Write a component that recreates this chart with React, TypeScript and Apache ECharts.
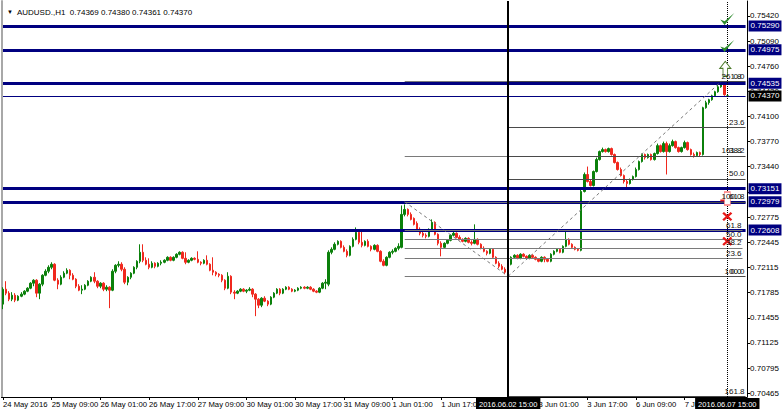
import { useEffect, useRef } from "react";
import * as echarts from "echarts";

const FONT = '"Liberation Sans", Arial, sans-serif';
const FS = 8;
const FS_X = 7.7;
const FS_BOX = 7.5;

const TITLE = "AUDUSD.,H1  0.74369 0.74380 0.74361 0.74370";
// "2 Jun 09:00" sits under the crosshair time box in the reference, so it is left blank
const X_LABELS = ["24 May 2016", "25 May 09:00", "26 May 01:00", "26 May 17:00", "27 May 09:00", "30 May 01:00", "30 May 17:00", "31 May 09:00", "1 Jun 01:00", "1 Jun 17:00", "", "3 Jun 01:00", "3 Jun 17:00", "6 Jun 09:00", "7 Jun 01:00"];
const LABEL_EVERY = 16;
const SLOTS = 245;
const Y_TICKS = [0.7542, 0.7509, 0.7476, 0.7443, 0.741, 0.7377, 0.7344, 0.7311, 0.72775, 0.72445, 0.72115, 0.71785, 0.71455, 0.71125, 0.70795, 0.70465];
const Y_MIN = 0.70415;
const Y_MAX = 0.75617;

// [open, close, low, high] hourly bars from 24 May 17:00
const OHLC: number[][] = [
  [0.71635, 0.71831, 0.71569, 0.71857], [0.71831, 0.71779, 0.71752, 0.71936], [0.71779, 0.717, 0.71674, 0.71805], [0.717, 0.71752, 0.71674, 0.71792],
  [0.71752, 0.71687, 0.71661, 0.71779], [0.71687, 0.71739, 0.71674, 0.71752], [0.71739, 0.71766, 0.71726, 0.71792], [0.71766, 0.71805, 0.71752, 0.71818],
  [0.71805, 0.71844, 0.71792, 0.71857], [0.71844, 0.7191, 0.71831, 0.71923], [0.7191, 0.71949, 0.7187, 0.71962], [0.71949, 0.71779, 0.71726, 0.71962],
  [0.71779, 0.71897, 0.717, 0.7191], [0.71897, 0.72014, 0.7187, 0.72028], [0.72014, 0.72067, 0.72001, 0.72093], [0.72067, 0.72119, 0.72041, 0.72145],
  [0.72119, 0.72159, 0.72093, 0.72185], [0.72159, 0.71949, 0.71936, 0.72172], [0.71949, 0.71897, 0.71831, 0.71975], [0.71897, 0.71988, 0.71883, 0.72014],
  [0.71988, 0.72041, 0.71975, 0.72067], [0.72041, 0.7208, 0.72028, 0.72106], [0.7208, 0.72014, 0.71962, 0.72093], [0.72014, 0.71962, 0.71949, 0.72041],
  [0.71962, 0.7187, 0.71844, 0.71975], [0.7187, 0.71818, 0.71805, 0.71897], [0.71818, 0.71831, 0.71766, 0.71883], [0.71831, 0.71883, 0.71818, 0.71897],
  [0.71883, 0.71936, 0.7187, 0.71949], [0.71936, 0.71988, 0.71923, 0.72001], [0.71988, 0.71936, 0.7191, 0.72054], [0.71936, 0.7187, 0.71844, 0.71949],
  [0.7187, 0.7191, 0.71844, 0.71923], [0.7191, 0.71831, 0.71805, 0.71923], [0.71831, 0.71857, 0.71805, 0.71883], [0.71857, 0.71818, 0.71582, 0.7187],
  [0.71818, 0.72067, 0.71805, 0.72093], [0.72067, 0.72145, 0.72041, 0.72159], [0.72145, 0.72159, 0.72119, 0.72198], [0.72159, 0.72093, 0.72067, 0.72185],
  [0.72093, 0.71923, 0.71897, 0.72119], [0.71923, 0.71988, 0.71883, 0.72001], [0.71988, 0.72041, 0.71962, 0.72054], [0.72041, 0.72119, 0.72028, 0.72132],
  [0.72119, 0.72198, 0.72093, 0.72211], [0.72198, 0.72316, 0.72172, 0.72421], [0.72316, 0.72211, 0.72185, 0.72421], [0.72211, 0.72159, 0.72145, 0.7225],
  [0.72159, 0.72119, 0.72093, 0.72237], [0.72119, 0.72172, 0.72106, 0.72198], [0.72172, 0.72132, 0.72106, 0.72185], [0.72132, 0.72172, 0.72119, 0.72185],
  [0.72172, 0.72185, 0.72145, 0.72211], [0.72185, 0.72211, 0.72172, 0.72224], [0.72211, 0.7225, 0.72198, 0.72263], [0.7225, 0.72211, 0.72198, 0.72263],
  [0.72211, 0.7225, 0.72198, 0.72263], [0.7225, 0.7229, 0.72237, 0.72303], [0.7229, 0.72316, 0.72276, 0.72329], [0.72316, 0.72237, 0.72224, 0.72329],
  [0.72237, 0.72185, 0.72159, 0.72316], [0.72185, 0.72211, 0.72172, 0.72224], [0.72211, 0.72237, 0.72198, 0.7225], [0.72237, 0.72224, 0.72211, 0.7225],
  [0.72224, 0.72185, 0.72172, 0.72329], [0.72185, 0.72172, 0.72145, 0.72198], [0.72172, 0.72211, 0.72159, 0.72224], [0.72211, 0.72159, 0.72145, 0.72276],
  [0.72159, 0.7208, 0.72067, 0.72172], [0.7208, 0.72054, 0.72014, 0.7225], [0.72054, 0.72028, 0.72001, 0.72067], [0.72028, 0.72014, 0.71988, 0.72041],
  [0.72014, 0.71949, 0.71923, 0.72028], [0.71949, 0.71844, 0.71818, 0.71962], [0.71844, 0.72001, 0.71831, 0.72054], [0.72001, 0.71792, 0.71766, 0.72014],
  [0.71792, 0.71779, 0.717, 0.71818], [0.71779, 0.71805, 0.71766, 0.71818], [0.71805, 0.71831, 0.71792, 0.71844], [0.71831, 0.71805, 0.71792, 0.71844],
  [0.71805, 0.71818, 0.71779, 0.71831], [0.71818, 0.71831, 0.71805, 0.71857], [0.71831, 0.71766, 0.71726, 0.71844], [0.71766, 0.717, 0.71477, 0.71779],
  [0.717, 0.71621, 0.71582, 0.71713], [0.71621, 0.71713, 0.71595, 0.71726], [0.71713, 0.71674, 0.71661, 0.71739], [0.71674, 0.71635, 0.71608, 0.71687],
  [0.71635, 0.71726, 0.71621, 0.71739], [0.71726, 0.71779, 0.71713, 0.71792], [0.71779, 0.71831, 0.71766, 0.71844], [0.71831, 0.71779, 0.71752, 0.71844],
  [0.71779, 0.71831, 0.71766, 0.71844], [0.71831, 0.71857, 0.71818, 0.7187], [0.71857, 0.71831, 0.71818, 0.7187], [0.71831, 0.71805, 0.71792, 0.71844],
  [0.71805, 0.71818, 0.71792, 0.71831], [0.71818, 0.71844, 0.71805, 0.71857], [0.71844, 0.71857, 0.71831, 0.7187], [0.71857, 0.71844, 0.71831, 0.7187],
  [0.71844, 0.71857, 0.71831, 0.7187], [0.71857, 0.71831, 0.71818, 0.7187], [0.71831, 0.71805, 0.71792, 0.71844], [0.71805, 0.71792, 0.71779, 0.71818],
  [0.71792, 0.71844, 0.71779, 0.71857], [0.71844, 0.7191, 0.71831, 0.71923], [0.7191, 0.71923, 0.71831, 0.71962], [0.71897, 0.72316, 0.7187, 0.72342],
  [0.72316, 0.72355, 0.7229, 0.72381], [0.72355, 0.72421, 0.72342, 0.72447], [0.72421, 0.7246, 0.72407, 0.72473], [0.7246, 0.72381, 0.72368, 0.72473],
  [0.72381, 0.72329, 0.72316, 0.72407], [0.72329, 0.72276, 0.7225, 0.72355], [0.72276, 0.72394, 0.72263, 0.72407], [0.72394, 0.72486, 0.72381, 0.72512],
  [0.72486, 0.72578, 0.72473, 0.72643], [0.72578, 0.72447, 0.72421, 0.72617], [0.72447, 0.72407, 0.72381, 0.72591], [0.72407, 0.7246, 0.72394, 0.72473],
  [0.7246, 0.72394, 0.72381, 0.72486], [0.72394, 0.72355, 0.72329, 0.72407], [0.72355, 0.72407, 0.72342, 0.72421], [0.72407, 0.72329, 0.72316, 0.72421],
  [0.72329, 0.72198, 0.72185, 0.72342], [0.72198, 0.72145, 0.72132, 0.72224], [0.72145, 0.7225, 0.72132, 0.72263], [0.7225, 0.72316, 0.72237, 0.72329],
  [0.72316, 0.72329, 0.7229, 0.72355], [0.72329, 0.72368, 0.72316, 0.72381], [0.72368, 0.72394, 0.72342, 0.72434], [0.72381, 0.72814, 0.72368, 0.72931],
  [0.72814, 0.72879, 0.72788, 0.72945], [0.72879, 0.72814, 0.72788, 0.72892], [0.72814, 0.72748, 0.72735, 0.7284], [0.72761, 0.72683, 0.72669, 0.72774],
  [0.72696, 0.72617, 0.72604, 0.72722], [0.72617, 0.72565, 0.72539, 0.72643], [0.72565, 0.72539, 0.72512, 0.72604], [0.72539, 0.72526, 0.72499, 0.72565],
  [0.72526, 0.72617, 0.72512, 0.7263], [0.72617, 0.72709, 0.72604, 0.72748], [0.72709, 0.72552, 0.72539, 0.72722], [0.72552, 0.72434, 0.72407, 0.72565],
  [0.72434, 0.72381, 0.72263, 0.7246], [0.72381, 0.72434, 0.72368, 0.72447], [0.72434, 0.72473, 0.72421, 0.72486], [0.72473, 0.72539, 0.7246, 0.72552],
  [0.72539, 0.72565, 0.72526, 0.72591], [0.72565, 0.72512, 0.72499, 0.72578], [0.72512, 0.72486, 0.72473, 0.72539], [0.72486, 0.7246, 0.72447, 0.72499],
  [0.7246, 0.72499, 0.72447, 0.72512], [0.72499, 0.72447, 0.72434, 0.72512], [0.72447, 0.72434, 0.72407, 0.72473], [0.72434, 0.72486, 0.72421, 0.72683],
  [0.72486, 0.72421, 0.72407, 0.72499], [0.72421, 0.72368, 0.72355, 0.72434], [0.72368, 0.72329, 0.72316, 0.72394], [0.72329, 0.72303, 0.72276, 0.72342],
  [0.72303, 0.72355, 0.7229, 0.72368], [0.72355, 0.7225, 0.72237, 0.72368], [0.7225, 0.72172, 0.72159, 0.72263], [0.72172, 0.72132, 0.72106, 0.72198],
  [0.72132, 0.72093, 0.7208, 0.72159], [0.72093, 0.72054, 0.72028, 0.72119], [0.72054, 0.72159, 0.72001, 0.72172], [0.72159, 0.7225, 0.72145, 0.72263],
  [0.7225, 0.72276, 0.72237, 0.7229], [0.72276, 0.72237, 0.72224, 0.7229], [0.72237, 0.7229, 0.72224, 0.72303], [0.7229, 0.72263, 0.7225, 0.72303],
  [0.72263, 0.72237, 0.72224, 0.72276], [0.72237, 0.72276, 0.72224, 0.7229], [0.72276, 0.7225, 0.72237, 0.7229], [0.7225, 0.72224, 0.72211, 0.72263],
  [0.72224, 0.72198, 0.72185, 0.72237], [0.72198, 0.7225, 0.72185, 0.72263], [0.7225, 0.72224, 0.72185, 0.72263], [0.72224, 0.72198, 0.72185, 0.72237],
  [0.72198, 0.7229, 0.72185, 0.72303], [0.7229, 0.72329, 0.72276, 0.72342], [0.72329, 0.72355, 0.72316, 0.72368], [0.72355, 0.72316, 0.72303, 0.72368],
  [0.72316, 0.72394, 0.72303, 0.72407], [0.72394, 0.72486, 0.72381, 0.72617], [0.72486, 0.72421, 0.72407, 0.72499], [0.72421, 0.72381, 0.72368, 0.72434],
  [0.72381, 0.72355, 0.72342, 0.72394], [0.72355, 0.72342, 0.72329, 0.72368], [0.72342, 0.73115, 0.72329, 0.73141], [0.73115, 0.73338, 0.73102, 0.73364],
  [0.73338, 0.73246, 0.73233, 0.73442], [0.73246, 0.73193, 0.7318, 0.73272], [0.73193, 0.73377, 0.7318, 0.7339], [0.73377, 0.73534, 0.73364, 0.7356],
  [0.73534, 0.73639, 0.73521, 0.73652], [0.73639, 0.73665, 0.73626, 0.73691], [0.73665, 0.73639, 0.73626, 0.73678], [0.73639, 0.73678, 0.73626, 0.73691],
  [0.73678, 0.736, 0.73586, 0.73691], [0.736, 0.73495, 0.73482, 0.73613], [0.73495, 0.73403, 0.7339, 0.73508], [0.73403, 0.73324, 0.73311, 0.73429],
  [0.73324, 0.73246, 0.7322, 0.73338], [0.73246, 0.7322, 0.73167, 0.73272], [0.7322, 0.73272, 0.73206, 0.73285], [0.73272, 0.73311, 0.73259, 0.73324],
  [0.73311, 0.73403, 0.73298, 0.73429], [0.73403, 0.73508, 0.7339, 0.73521], [0.73508, 0.736, 0.73495, 0.73613], [0.736, 0.7356, 0.73534, 0.73613],
  [0.7356, 0.736, 0.73547, 0.73613], [0.736, 0.73534, 0.73521, 0.73613], [0.73534, 0.73613, 0.73521, 0.73626], [0.73613, 0.73717, 0.736, 0.73744],
  [0.73717, 0.73639, 0.73626, 0.73731], [0.73639, 0.73744, 0.73626, 0.7377], [0.73744, 0.73639, 0.73338, 0.7377], [0.73639, 0.73717, 0.73626, 0.73744],
  [0.73717, 0.7377, 0.73704, 0.73796], [0.7377, 0.73691, 0.73678, 0.73783], [0.73691, 0.73639, 0.73626, 0.73704], [0.73639, 0.73691, 0.73626, 0.73704],
  [0.73691, 0.73757, 0.73678, 0.73783], [0.73757, 0.73665, 0.73652, 0.7377], [0.73665, 0.736, 0.73586, 0.73678], [0.736, 0.73586, 0.7356, 0.73626],
  [0.73586, 0.73626, 0.73573, 0.73639], [0.73626, 0.736, 0.73573, 0.73639], [0.736, 0.74215, 0.73586, 0.74228], [0.74215, 0.74281, 0.74202, 0.74307],
  [0.74281, 0.7432, 0.74255, 0.74333], [0.7432, 0.74372, 0.74307, 0.74386], [0.74372, 0.74425, 0.74359, 0.74438], [0.74425, 0.7449, 0.74412, 0.7453],
  [0.7449, 0.74517, 0.74477, 0.7456], [0.74517, 0.74386, 0.74372, 0.7453], [0.74369, 0.7437, 0.74361, 0.7438],
];

const H_LINES = [0.7529, 0.74975, 0.74535, 0.73151, 0.72979, 0.72608];
const BID = 0.7437;
const V_LINES = [
  { index: 166, text: "2016.06.02 15:00", style: "solid", width: 2 },
  { index: 238, text: "2016.06.07 15:00", style: "dotted", width: 1 },
];
const FIB_LEVELS = [0, 23.6, 38.2, 50, 61.8, 100, 161.8, 261.8];
// fib A: swing high (100) -> swing low (0); fib B: swing low (100) -> swing high (0)
const FIB_A = { startIdx: 132, endIdx: 166, p100: 0.72979, p0: 0.72001, color: "#7a7a7a", lineEnd: 243 };
const FIB_B = { startIdx: 166, endIdx: 236, p100: 0.72001, p0: 0.7456, color: "#4a4a4a", lineEnd: 244 };

const ICON_IDX = 238;
const CHECK_PRICES = [0.75381, 0.75027];
const ARROW_PRICE = 0.74726;
const STOP_PRICE = 0.73023;
const CROSS_PRICES = [0.72787, 0.7246];

const NAVY = "#000080";
const BULL = "#0b800b";
const BEAR = "#f0281e";

const CHECK_PATH = "path://M0,6 L4,11 L13,0 L4,7.5 Z";
const ARROW_PATH = "path://M6,0 L12,7 L8.5,7 L8.5,15 L3.5,15 L3.5,7 L0,7 Z";
const CROSS_PATH = "path://M0,2 L2,0 L6,4 L10,0 L12,2 L8,6 L12,10 L10,12 L6,8 L2,12 L0,10 L4,6 Z";

export default function App() {
  const ref = useRef<HTMLDivElement>(null);
  useEffect(() => {
    if (!ref.current) return;
    const chart = echarts.init(ref.current, undefined, { renderer: "svg" });
    const cats = Array.from({ length: SLOTS }, (_, i) => String(i));

    const boxLabel = (bg: string, text: string) => ({
      show: true,
      position: "end",
      formatter: text,
      backgroundColor: bg,
      color: "#fff",
      padding: [2, 2, 1, 2],
      distance: 3,
      fontSize: FS,
      fontFamily: FONT,
    });

    const ml: any[] = [];
    const hLine = (v: number, width: number, bg: string) =>
      ml.push([
        { coord: [0, v], lineStyle: { color: NAVY, width, type: "solid" }, label: boxLabel(bg, v.toFixed(5)) },
        { coord: [SLOTS - 1, v] },
      ]);
    H_LINES.forEach((v) => hLine(v, 3, NAVY));
    hLine(BID, 1, "#000");

    const fibs = [FIB_A, FIB_B];
    fibs.forEach((f) => {
      FIB_LEVELS.forEach((L) => {
        const p = f.p0 + (L / 100) * (f.p100 - f.p0);
        if (p < Y_MIN || p > Y_MAX) return;
        ml.push([
          {
            coord: [f.startIdx, p],
            lineStyle: { color: f.color, width: 1, type: "solid" },
            label: { show: true, position: "insideEndTop", formatter: L.toFixed(1), color: "#111", fontSize: FS, fontFamily: FONT, distance: 1, padding: 0 },
          },
          { coord: [f.lineEnd, p] },
        ]);
      });
      ml.push([
        { coord: [f.startIdx, f.p100], lineStyle: { color: "#777", width: 1, type: [3, 3] }, label: { show: false } },
        { coord: [f.endIdx, f.p0] },
      ]);
    });

    V_LINES.forEach((v) =>
      ml.push({
        xAxis: v.index,
        lineStyle: { color: "#000", width: v.width, type: v.style },
        label: { show: true, position: "start", formatter: v.text, backgroundColor: "#000", color: "#fff", padding: [2, 3, 1, 3], distance: 1, fontSize: FS_BOX, fontFamily: FONT },
      })
    );

    const mp: any[] = [];
    CHECK_PRICES.forEach((p) =>
      mp.push({ coord: [ICON_IDX, p], symbol: CHECK_PATH, symbolSize: [14, 12], itemStyle: { color: "#2d8a2d" } })
    );
    mp.push({ coord: [ICON_IDX, ARROW_PRICE], symbol: ARROW_PATH, symbolSize: [11, 15], symbolOffset: [-2, 0], itemStyle: { color: "#ffffff", borderColor: "#4d7a2a", borderWidth: 1 } });
    mp.push({ coord: [ICON_IDX, STOP_PRICE], symbol: "rect", symbolSize: [6, 13], itemStyle: { color: "#ffffff", borderColor: "#ff7a7a", borderWidth: 1 } });
    mp.push({ coord: [ICON_IDX, STOP_PRICE], symbol: "rect", symbolSize: [4, 2], symbolOffset: [-5, 2], itemStyle: { color: "#e82020" } });
    CROSS_PRICES.forEach((p) =>
      mp.push({ coord: [ICON_IDX, p], symbol: CROSS_PATH, symbolSize: [10, 9], itemStyle: { color: "#e81818" } })
    );

    chart.setOption({
      animation: false,
      backgroundColor: "#ffffff",
      title: {
        text: "{a|▼}  " + TITLE,
        left: 2,
        top: 3,
        textStyle: { fontSize: FS, fontFamily: FONT, fontWeight: "normal", color: "#000", rich: { a: { fontSize: 6, color: "#000" } } },
      },
      grid: { left: 0, right: 32, top: 1, bottom: 14 },
      xAxis: {
        type: "category",
        data: cats,
        boundaryGap: true,
        axisLine: { show: true, lineStyle: { color: "#000", width: 1 } },
        axisTick: { show: true, interval: LABEL_EVERY - 1, alignWithLabel: true, length: 3, lineStyle: { color: "#000" } },
        axisLabel: {
          interval: LABEL_EVERY - 1,
          showMinLabel: true,
          align: "left",
          margin: 3,
          fontSize: FS_X,
          fontFamily: FONT,
          color: "#000",
          formatter: (_v: string, i: number) => X_LABELS[i / LABEL_EVERY] ?? "",
        },
        splitLine: { show: false },
      },
      yAxis: [
        {
          type: "value",
          position: "right",
          min: Y_MIN,
          max: Y_MAX,
          scale: true,
          splitLine: { show: false },
          axisLine: { show: true, lineStyle: { color: "#000", width: 1 } },
          axisTick: { show: true, customValues: Y_TICKS, length: 3, lineStyle: { color: "#000" } },
          axisLabel: { customValues: Y_TICKS, formatter: (v: number) => v.toFixed(5), margin: 3, fontSize: FS, fontFamily: FONT, color: "#000" },
        },
        {
          type: "value",
          position: "left",
          min: Y_MIN,
          max: Y_MAX,
          splitLine: { show: false },
          axisLine: { show: true, lineStyle: { color: "#a8a8a8", width: 2 } },
          axisTick: { show: false },
          axisLabel: { show: false },
        },
      ],
      series: [
        {
          type: "candlestick",
          data: OHLC,
          barWidth: 2,
          itemStyle: { color: BULL, color0: BEAR, borderColor: BULL, borderColor0: BEAR, borderWidth: 1 },
          markLine: { silent: true, symbol: ["none", "none"], label: { show: false }, data: ml, animation: false },
          markPoint: { silent: true, label: { show: false }, data: mp, animation: false },
        },
      ],
    });
    return () => chart.dispose();
  }, []);
  return <div ref={ref} style={{ position: "fixed", left: 0, top: 0, width: 782, height: 411 }} />;
}
